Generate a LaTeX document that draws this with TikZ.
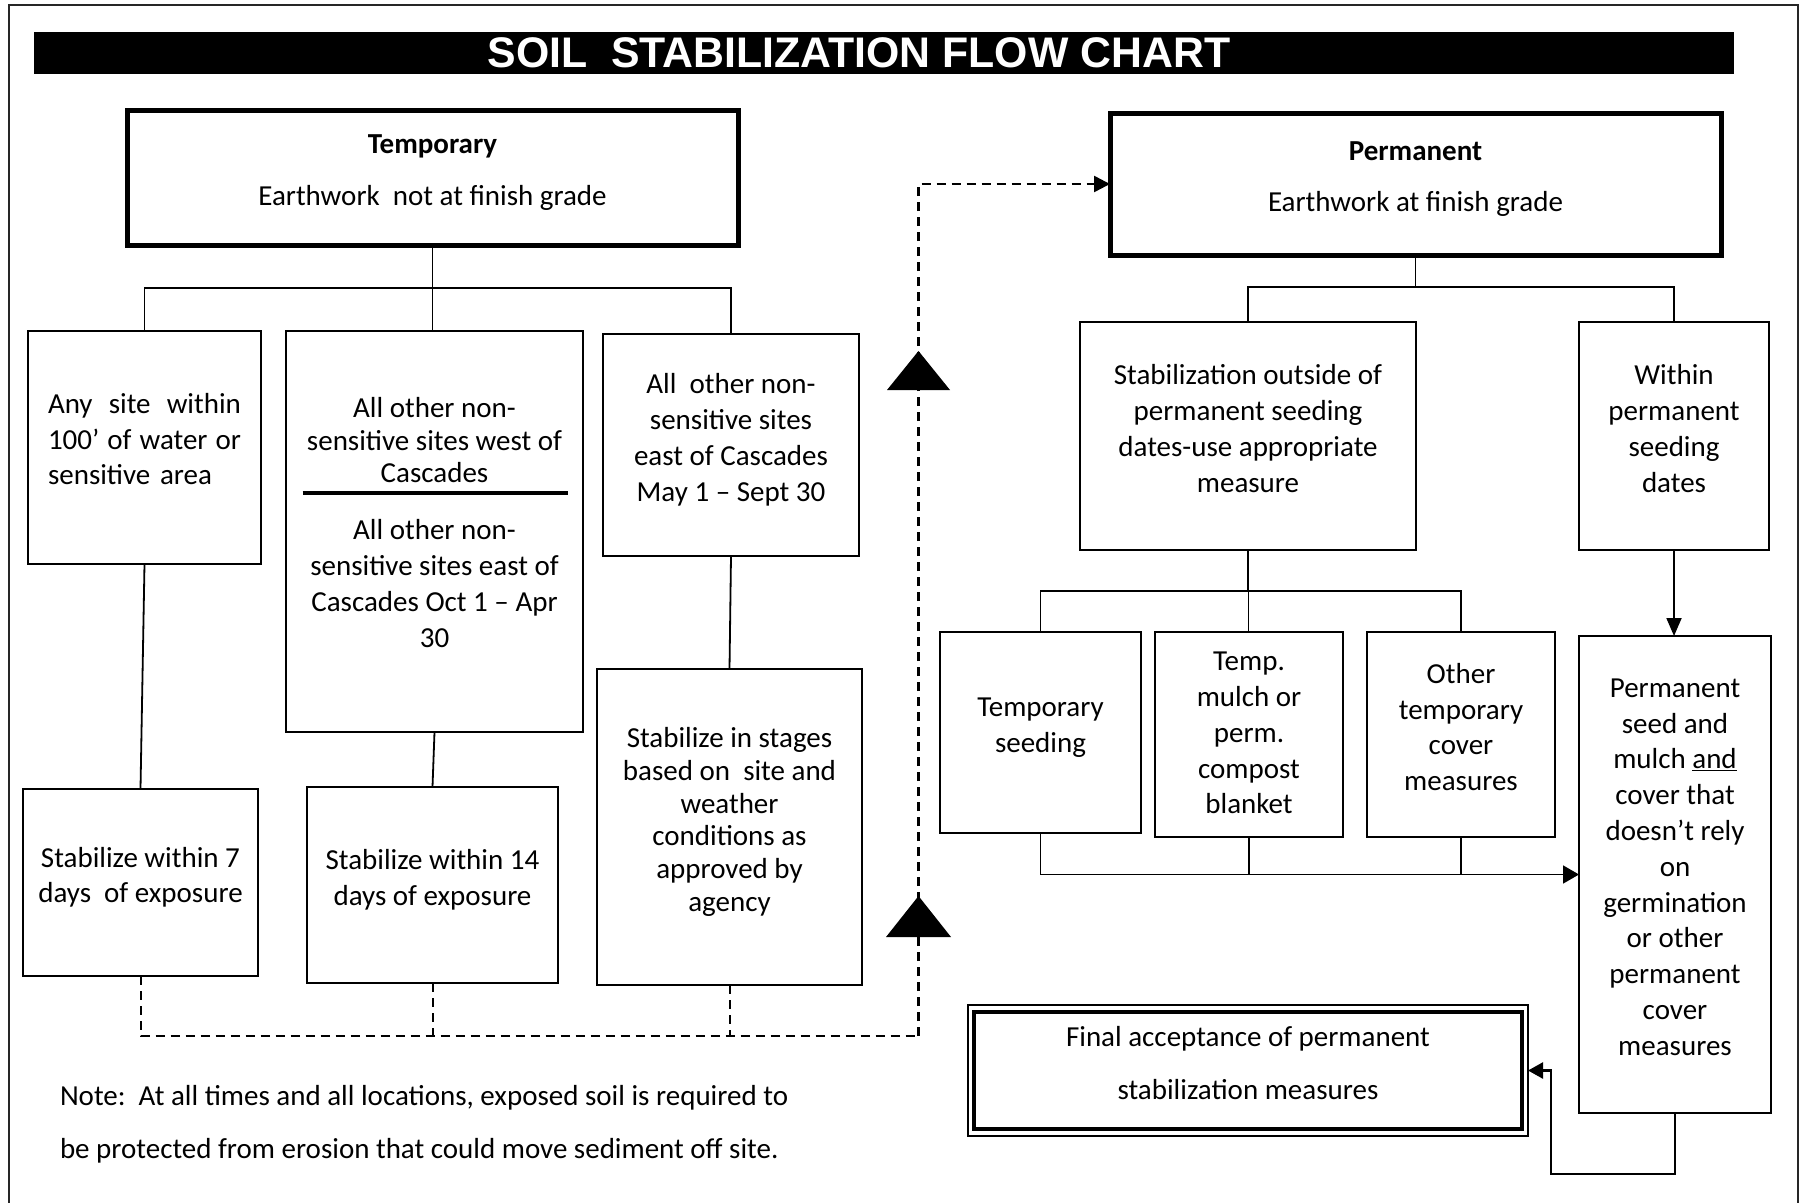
\documentclass[tikz,border=0pt]{standalone}
\usepackage{fontspec}
\setmainfont{Carlito}
\newfontfamily\titlefont{Liberation Sans}
\usetikzlibrary{arrows.meta,calc}
\newcommand\topstrut{\rule{0pt}{34pt}}
\newcommand\botstrut{\rule[-15pt]{0pt}{15pt}}
\newcommand\atopstrut{\rule{0pt}{24pt}}
\newcommand\abotstrut{\rule[-20pt]{0pt}{20pt}}
\begin{document}
\begin{tikzpicture}[x=1pt,y=-1pt,
  every node/.style={font=\fontsize{29}{35.8}\selectfont, inner sep=0pt, outer sep=0pt},
  txt/.style={align=center, execute at begin node=\topstrut, execute at end node=\botstrut},
  flowbox/.style={draw, line width=2pt, txt},
  bigbox/.style={draw, line width=5pt, txt},
  conn/.style={line width=1.8pt},
  thinconn/.style={line width=1pt},
  dashline/.style={line width=2pt, dash pattern=on 9pt off 6pt},
  marker/.style={fill=black}]
\useasboundingbox (0,0) rectangle (1804,1202);
% outer frame
\draw[line width=2pt, black!85] (9,1215) -- (9,5) -- (1798,5) -- (1798,1215);
% title bar
\fill (34,32) rectangle (1734,74);
\node[font={\titlefont\bfseries\fontsize{42.8}{44}\selectfont}, text=white] (title) at (859,53) {SOIL\ \ STABILIZATION FLOW CHART};

% top boxes
\node[bigbox, minimum width=611pt, minimum height=135pt] (T) at (432.5,177.5)
  {\textbf{Temporary}\\[16pt]Earthwork\ \ not at finish grade};
\node[bigbox, minimum width=611pt, minimum height=142pt] (P) at (1415.5,184)
  {\textbf{Permanent}\\[16pt]Earthwork at finish grade};

% left column
\node[flowbox, minimum width=233pt, minimum height=233pt] (A) at (144.5,447.5) {};
\node[text width=193pt, align=left, execute at begin node=\atopstrut, execute at end node=\abotstrut] (At) at (144.5,447)
  {Any\hfill site\hfill within\\100’\hfill of\hfill water\hfill or\\sensitive area};
\node[flowbox, minimum width=297pt, minimum height=401pt] (B) at (434.5,531.5) {};
\node[txt, font=\fontsize{29}{32.5}\selectfont] (Bt) at (434.5,447.5) {All other non-\\sensitive sites west of\\Cascades};
\node[txt] (Bb) at (434.5,591) {All other non-\\sensitive sites east of\\Cascades Oct 1 – Apr\\30};
\draw[line width=3.5pt] (302.5,493) -- (568,493);
\node[flowbox, minimum width=256pt, minimum height=222pt] (C) at (731,445)
  {All\ \ other non-\\sensitive sites\\east of Cascades\\May 1 – Sept 30};
\node[flowbox, minimum width=235pt, minimum height=187pt] (D) at (140.5,882.5)
  {Stabilize within 7\\days\ \ of exposure};
\node[flowbox, minimum width=251pt, minimum height=196pt] (E) at (432.5,885)
  {Stabilize within 14\\days of exposure};
\node[flowbox, minimum width=265pt, minimum height=316pt, font=\fontsize{29}{32.7}\selectfont] (F) at (729.5,827)
  {Stabilize in stages\\based on\ \ site and\\weather\\conditions as\\approved by\\agency};

% right column
\node[flowbox, minimum width=336pt, minimum height=228pt] (G) at (1248,436)
  {Stabilization outside of\\permanent seeding\\dates-use appropriate\\measure};
\node[flowbox, minimum width=190pt, minimum height=228pt] (H) at (1674,436)
  {Within\\permanent\\seeding\\dates};
\node[flowbox, minimum width=201pt, minimum height=201pt] (I) at (1040.5,732.5)
  {Temporary\\seeding};
\node[flowbox, minimum width=188pt, minimum height=205pt] (J) at (1249,734.5) {};
\node[txt] (Jt) at (1249,740.5) {Temp.\\mulch or\\perm.\\compost\\blanket};
\node[flowbox, minimum width=188pt, minimum height=205pt] (L) at (1461,734.5)
  {Other\\temporary\\cover\\measures};
\node[flowbox, minimum width=192pt, minimum height=477pt] (K) at (1675,874.5)
  {Permanent\\seed and\\mulch \underline{and}\\cover that\\doesn’t rely\\on\\germination\\or other\\permanent\\cover\\measures};
\node[draw, line width=2.5pt, minimum width=560pt, minimum height=131pt, txt] (M) at (1248,1070.5)
  {Final acceptance of permanent\\[16.5pt]stabilization measures};
\draw[line width=3.5pt] ($(M.north west)+(6,7)$) rectangle ($(M.south east)+(-6,-7)$);

% note
\node[txt, anchor=west, align=left] (note) at (60,1129.5)
  {Note:\ \ At all times and all locations, exposed soil is required to\\[17.5pt]be protected from erosion that could move sediment off site.};

% connectors, temporary side
\draw[conn] (T.south) -- ++(0,43) -| (A.north);
\draw[conn] (T.south) ++(0,43) -| (C.north);
\draw[conn] (T.south) -- (T.south |- B.north);
\draw[conn] (A.south) -- (D.north);
\draw[conn] (B.south) -- (E.north);
\draw[conn] (C.south) -- (F.north);

% dashed return
\coordinate (dj) at (918.5,1036);
\draw[dashline] (D.south) |- (dj);
\draw[dashline] (E.south) -- (E.south |- dj);
\draw[dashline] (F.south) -- (F.south |- dj);
\draw[dashline, line width=2.5pt, -{Triangle[length=16pt,width=16pt]}] (dj) |- (P.west);
\fill[marker] (918.5,351) -- (887,390) -- (950,390) -- cycle;
\fill[marker] (918.5,896) -- (886,937) -- (951,937) -- cycle;

% connectors, permanent side
\draw[conn] (P.south) -- ++(0,32) -| (G.north);
\draw[conn] (P.south) ++(0,32) -| (H.north);
\draw[conn, -{Triangle[length=18pt,width=15pt]}] (H.south) -- (H.south |- K.north);
\draw[conn] (G.south) -- ++(0,41) -| (I.north);
\draw[conn] (G.south) ++(0,41) -| (L.north);
\draw[thinconn] (G.south) -- (G.south |- J.north);
\draw[conn, -{Triangle[length=16pt,width=18pt]}] (I.south) |- (K.west);
\draw[conn] (J.south) -- (J.south |- K.west);
\draw[conn] (L.south) -- (L.south |- K.west);
\draw[line width=2.5pt, -{Triangle[length=15pt,width=16pt]}] (K.south) -- ++(0,61) -| ($(M.east)+(23,0)$) -- (M.east);
\end{tikzpicture}
\end{document}
